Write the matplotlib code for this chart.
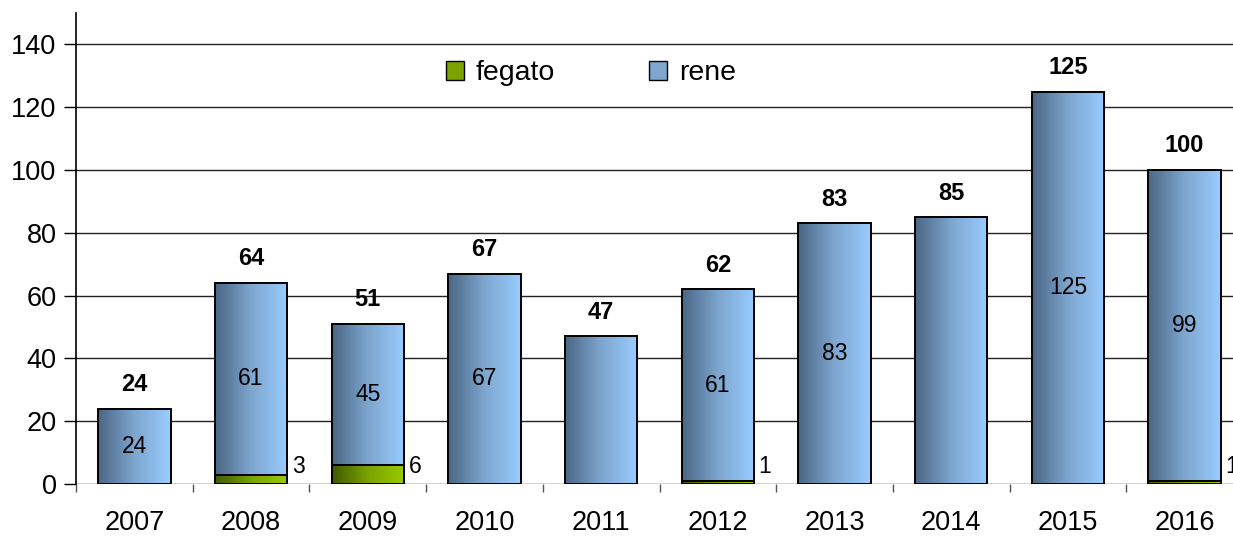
import matplotlib
matplotlib.use("Agg")
import matplotlib.pyplot as plt
import numpy as np
from matplotlib.colors import LinearSegmentedColormap
from matplotlib.patches import Patch, Rectangle

plt.rcParams['font.family'] = ['Liberation Sans', 'DejaVu Sans']

years = ['2007', '2008', '2009', '2010', '2011', '2012', '2013', '2014', '2015', '2016']
fegato = [0, 3, 6, 0, 0, 1, 0, 0, 0, 1]
rene = [24, 61, 45, 67, 47, 61, 83, 85, 125, 99]
# which rene values are printed inside the bars
rene_shown = [True, True, True, True, False, True, True, False, True, True]

blue_cmap = LinearSegmentedColormap.from_list('blue', ['#4a6684', '#7ea6cf', '#99ccff'])
green_cmap = LinearSegmentedColormap.from_list('green', ['#3f5a00', '#7aa300', '#99cc00'])
grad = np.linspace(0, 1, 256).reshape(1, -1)

fig = plt.figure(figsize=(12.33, 5.36), dpi=100)
ax = fig.add_axes([76 / 1233, 52 / 536, 1167 / 1233, 471 / 536])

width = 0.62


def grad_bar(x, bottom, height, cmap):
    if height <= 0:
        return
    x0, x1 = x - width / 2, x + width / 2
    ax.imshow(grad, cmap=cmap, extent=[x0, x1, bottom, bottom + height],
              aspect='auto', zorder=2, interpolation='bilinear')
    ax.add_patch(Rectangle((x0, bottom), width, height, fill=False,
                           edgecolor='black', linewidth=1.4, zorder=3))


for i in range(len(years)):
    grad_bar(i, 0, fegato[i], green_cmap)
    grad_bar(i, fegato[i], rene[i], blue_cmap)
    total = fegato[i] + rene[i]
    ax.text(i, total + 4, str(total), ha='center', va='bottom',
            fontsize=17, fontweight='bold', zorder=4)
    if rene_shown[i]:
        ax.text(i, fegato[i] + rene[i] / 2, str(rene[i]), ha='center',
                va='center', fontsize=16.5, zorder=4)
    if fegato[i] > 0:
        ax.text(i + width / 2 + 0.04, 5.5, str(fegato[i]), ha='left',
                va='center', fontsize=16.5, zorder=4)

ax.set_xlim(-0.5, len(years) - 0.5)
ax.set_ylim(0, 150)
ax.set_yticks(range(0, 141, 20))
ax.set_xticks(range(len(years)))
ax.set_xticklabels(years)
ax.set_xticks(np.arange(-0.5, len(years), 1), minor=True)

ax.grid(axis='y', color='#222222', linewidth=1.0, zorder=0)
ax.set_axisbelow(True)
for s in ['top', 'right', 'bottom']:
    ax.spines[s].set_visible(False)
ax.spines['left'].set_linewidth(1.2)

ax.tick_params(axis='y', labelsize=19.5, length=9, width=1.0, pad=5)
ax.tick_params(axis='x', which='major', labelsize=19.5, length=0, pad=19)
ax.tick_params(axis='x', which='minor', length=6, width=1.0, color='#555555')

handles = [Patch(facecolor='#7aa300', edgecolor='black', label='fegato'),
           Patch(facecolor='#7ea6cf', edgecolor='black', label='rene')]
ax.legend(handles=handles, loc='center', bbox_to_anchor=(0.441, 0.872), ncol=2,
          frameon=False, fontsize=20.5, columnspacing=3.3, handlelength=0.65,
          handleheight=0.65, handletextpad=0.4)

fig.savefig('out.png', dpi=100)
